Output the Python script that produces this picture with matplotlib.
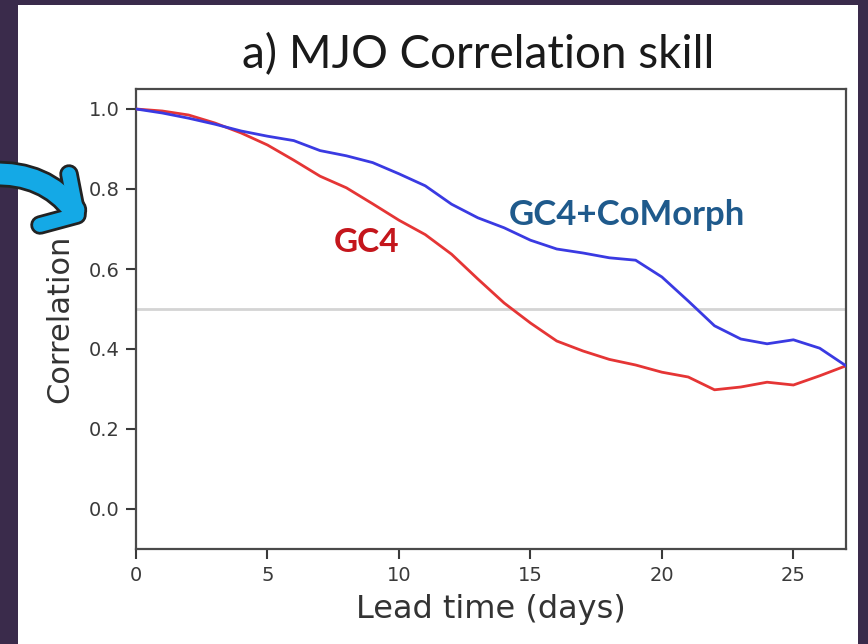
import matplotlib
matplotlib.use("Agg")
import matplotlib.pyplot as plt
from matplotlib.patches import Rectangle
from matplotlib.path import Path
from matplotlib.patches import PathPatch

# Lead time (days) and MJO correlation skill for the two configurations
lead_days = list(range(0, 28))
gc4 = [1.000, 0.995, 0.985, 0.965, 0.940, 0.910, 0.872, 0.832, 0.803, 0.763,
       0.722, 0.686, 0.637, 0.575, 0.515, 0.465, 0.420, 0.395, 0.374, 0.360,
       0.342, 0.330, 0.298, 0.305, 0.317, 0.310, 0.333, 0.358]
gc4_comorph = [1.000, 0.990, 0.977, 0.962, 0.945, 0.932, 0.921, 0.896, 0.883, 0.866,
               0.838, 0.808, 0.762, 0.728, 0.703, 0.672, 0.650, 0.640, 0.628, 0.622,
               0.580, 0.520, 0.458, 0.425, 0.413, 0.423, 0.402, 0.358]
skill_threshold = 0.5
x_ticks = [0, 5, 10, 15, 20, 25]
y_ticks = [0.0, 0.2, 0.4, 0.6, 0.8, 1.0]

W, H = 868, 644
fig = plt.figure(figsize=(W / 100, H / 100), dpi=100, facecolor="#3a2b4b")

# white slide panel behind the plot
fig.patches.append(Rectangle((18 / W, 0), 840 / W, 639 / H, transform=fig.transFigure,
                             facecolor="white", edgecolor="none", zorder=-5))

ax = fig.add_axes([136 / W, 95 / H, 710 / W, 460 / H])
ax.set_facecolor("white")

ax.axhline(skill_threshold, color="#d4d4d4", lw=2, zorder=1)
ax.plot(lead_days, gc4, color="#e53535", lw=2, zorder=3)
ax.plot(lead_days, gc4_comorph, color="#3a3ae2", lw=2, zorder=3)

ax.set_xlim(0, 27)
ax.set_ylim(-0.1, 1.05)
ax.set_xticks(x_ticks)
ax.set_yticks(y_ticks)
ax.set_yticklabels([f"{v:.1f}" for v in y_ticks])
ax.tick_params(axis="both", labelsize=14, colors="#3a3a3a", length=7, width=1.5, pad=5)
for s in ax.spines.values():
    s.set_color("#4a4a4a")
    s.set_linewidth(1.6)

ax.set_xlabel("Lead time (days)", fontsize=23, color="#333333", labelpad=7)
ax.set_ylabel("Correlation", fontsize=22, color="#333333", labelpad=10)

fig.text(478 / W, 1 - 55 / H, "a) MJO Correlation skill", family="Lato", fontsize=33,
         color="#1a1a1a", ha="center", va="center")

fig.text(367 / W, 1 - 243 / H, "GC4", family="Lato",
         fontweight="bold", fontsize=24, color="#c4161c", ha="center", va="center")
fig.text(627 / W, 1 - 215 / H, "GC4+CoMorph", family="Lato",
         fontweight="bold", fontsize=25, color="#1f5a8c", ha="center", va="center")


# curved callout arrow on the left edge (pixel coordinates, y measured from top)
def fp(x, y):
    return (x / W, 1 - y / H)


shaft = Path([fp(-8, 174), fp(45, 172), fp(74, 210)],
             [Path.MOVETO, Path.CURVE3, Path.CURVE3])
head = Path([fp(69, 174), fp(77, 215), fp(40, 225)],
            [Path.MOVETO, Path.LINETO, Path.LINETO])
arrow_blue = "#14a9e6"
arrow_edge = "#222222"
for path, lw in ((shaft, 15), (head, 10)):
    fig.patches.append(PathPatch(path, transform=fig.transFigure, facecolor="none",
                                 edgecolor=arrow_edge, lw=lw + 4, capstyle="round",
                                 joinstyle="round", zorder=5))
for path, lw in ((shaft, 15), (head, 10)):
    fig.patches.append(PathPatch(path, transform=fig.transFigure, facecolor="none",
                                 edgecolor=arrow_blue, lw=lw, capstyle="round",
                                 joinstyle="round", zorder=6))

fig.savefig("out.png", dpi=100, facecolor=fig.get_facecolor())
